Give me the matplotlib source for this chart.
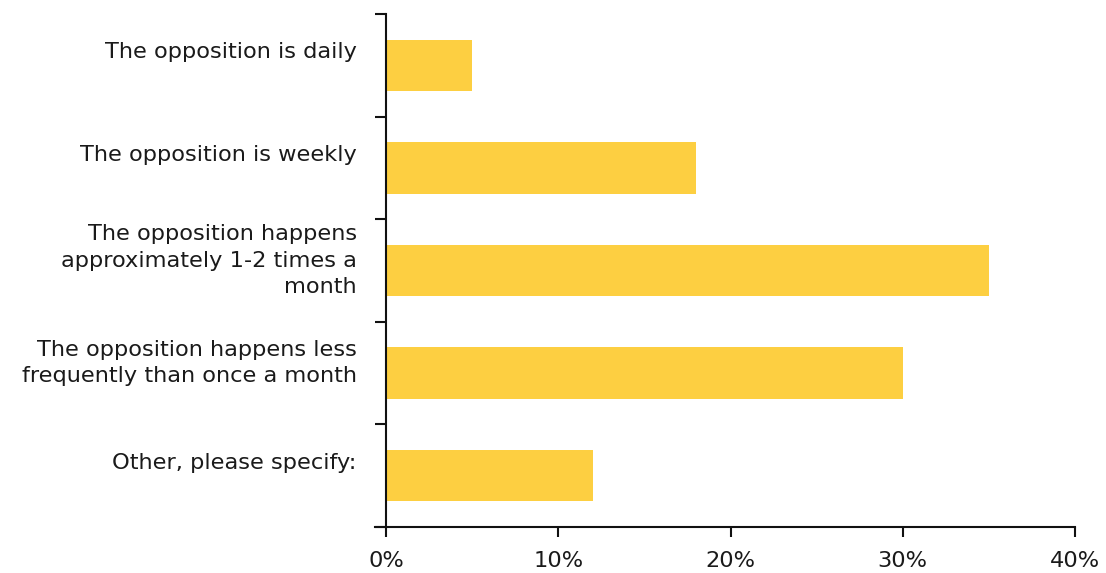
import matplotlib
matplotlib.use("Agg")
import matplotlib.pyplot as plt
from matplotlib.transforms import ScaledTranslation

categories = [
    "The opposition is daily",
    "The opposition is weekly",
    "The opposition happens\napproximately 1-2 times a\nmonth",
    "The opposition happens less\nfrequently than once a month",
    "Other, please specify:",
]
shares = [5, 18, 35, 30, 12]
xticks = [0, 10, 20, 30, 40]

plt.rcParams['font.family'] = ['DejaVu Sans']

fig = plt.figure(figsize=(11.06, 5.73), dpi=100)
ax = fig.add_axes([375 / 1106, 1 - 527 / 573, 700 / 1106, 513 / 573])

ypos = list(range(len(categories)))
ax.barh(ypos, shares, height=0.5, color="#fdcf41", zorder=2)

ax.set_xlim(-0.64, 40)
ax.set_ylim(len(categories) - 0.5, -0.5)

for side in ("top", "right"):
    ax.spines[side].set_visible(False)
ax.spines["left"].set_position(("data", 0))
for side in ("left", "bottom"):
    ax.spines[side].set_linewidth(1.5)
    ax.spines[side].set_color("#111111")

# category labels sit a bit above the bar centres, ticks mark the boundaries
ax.set_yticks(ypos)
ax.set_yticklabels(categories, fontsize=16.2, ha="right", multialignment="right",
                   linespacing=1.38, color="#1a1a1a")
ax.tick_params(axis="y", which="major", length=0, pad=21)
ax.set_yticks([i - 0.5 for i in range(len(categories) + 1)], minor=True)
ax.tick_params(axis="y", which="minor", length=8, width=1.5, color="#111111")
shift = ScaledTranslation(0, 15 / 100, fig.dpi_scale_trans)
for lab in ax.get_yticklabels():
    lab.set_transform(lab.get_transform() + shift)

ax.set_xticks(xticks)
ax.set_xticklabels([f"{v}%" for v in xticks], fontsize=16.2, color="#1a1a1a")
ax.tick_params(axis="x", length=7.5, width=1.5, color="#111111", pad=10)

fig.savefig("out.png", dpi=100)
